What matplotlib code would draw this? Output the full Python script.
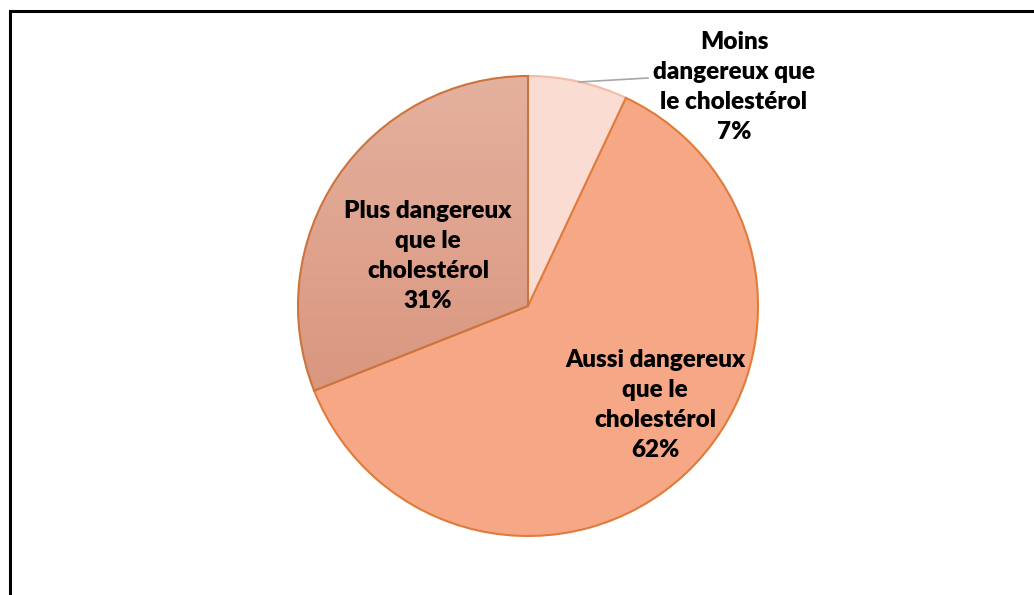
import numpy as np
import matplotlib.pyplot as plt
from matplotlib.colors import LinearSegmentedColormap
from matplotlib.patches import Rectangle

# données du graphique
labels = ['Moins\ndangereux que\nle cholestérol',
          'Aussi dangereux\nque le\ncholestérol',
          'Plus dangereux\nque le\ncholestérol']
values = [7, 62, 31]
colors = ['#FADCD2', '#F6A886', '#DFA08B']
edges = ['#F2BCA6', '#E07B39', '#CC743C']

W, H = 1034, 595
fig = plt.figure(figsize=(W / 100, H / 100), dpi=100)
ax = fig.add_axes([0, 0, 1, 1])

# cadre (ouvert à droite et en bas)
ax.add_patch(Rectangle((9.5, -20), W + 40, H - 11 + 20, fill=False,
                       edgecolor='black', linewidth=2.2))

cx, cy, r = 528, H - 306, 230
wedges, _ = ax.pie(values, colors=colors, startangle=90, counterclock=False,
                   center=(cx, cy), radius=r, frame=True,
                   wedgeprops=dict(linewidth=1.5))
ax.set_xlim(0, W)
ax.set_ylim(0, H)
ax.set_aspect('equal')
ax.axis('off')
for w, ec in zip(wedges, edges):
    w.set_edgecolor(ec)

# dégradé sur la part "Plus dangereux"
cmap = LinearSegmentedColormap.from_list('g', ['#E4B19E', '#D9957E'])
grad = np.linspace(0, 1, 256).reshape(-1, 1)
im = ax.imshow(grad, cmap=cmap, extent=(cx - r, cx, cy - 100, cy + r),
               origin='upper', aspect='auto', zorder=wedges[2].get_zorder())
im.set_clip_path(wedges[2])
wedges[2].set_facecolor('none')
wedges[2].set_zorder(im.get_zorder() + 0.1)

font = dict(family=['Lato', 'DejaVu Sans'], fontsize=17.5, fontweight='heavy',
            ha='center', va='center', linespacing=1.45)

ax.text(428, H - 256, labels[2] + f'\n{values[2]}%', **font)
ax.text(655, H - 405, labels[1] + f'\n{values[1]}%', **font)
ax.text(734, H - 87, labels[0] + f'\n{values[0]}%', **font)

# trait de rappel
ax.plot([579, 648], [H - 82, H - 78], color='#A6A6A6', linewidth=1.2)

fig.savefig('out.png', dpi=100)
